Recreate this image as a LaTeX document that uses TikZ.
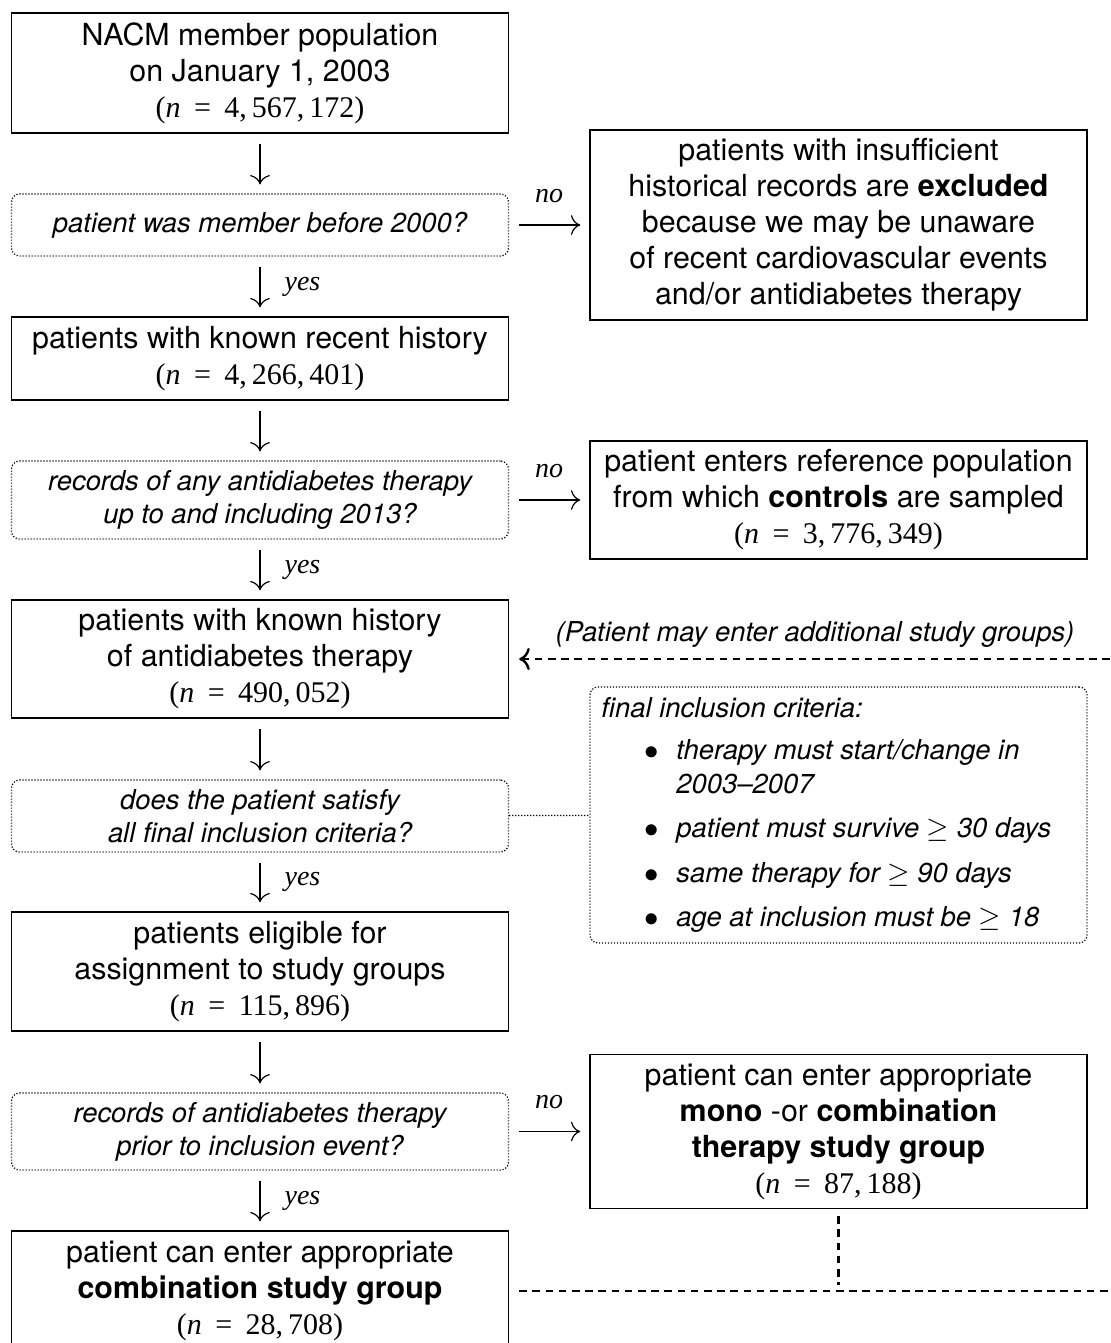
\documentclass[tikz,border=0pt]{standalone}
\usepackage{fontspec}
\setmainfont{TeX Gyre Heros}
\newfontfamily\tms{Liberation Serif}
\usetikzlibrary{positioning,arrows.meta}

\newcommand{\nval}[1]{{\tms\fontsize{15}{18}\selectfont(\textit{n}\hspace{0.45em}=\hspace{0.45em}#1)}}
\newcommand{\geqs}{$\geq$}

\begin{document}
\begin{tikzpicture}[x=0.5pt, y=-0.5pt,
        box/.style={draw, line width=0.7pt, minimum width=248.5pt, inner sep=0pt, align=center, font=\fontsize{15.2}{18}\selectfont},
        decision/.style={draw, line width=0.6pt, dash pattern=on 0.6pt off 0.9pt, rounded corners=4pt, minimum width=248.5pt, inner sep=0pt, align=center, font=\fontsize{13.7}{16.5}\selectfont\itshape},
        flow/.style={-{To[scale=1.6]}, line width=0.6pt, shorten <=5pt, shorten >=4.5pt},
        back/.style={line width=1.2pt, dash pattern=on 3.8pt off 2.8pt},
        link/.style={line width=0.6pt, dash pattern=on 0.6pt off 0.9pt},
        answer/.style={font=\tms\fontsize{14}{16}\selectfont\itshape, inner sep=0pt},
        crit/.style={anchor=west, inner sep=0pt, font=\fontsize{13.7}{16}\selectfont\itshape},
        dot/.style={inner sep=0pt, font=\fontsize{15}{16}\selectfont}
    ]
    \path[use as bounding box, clip] (0,0) rectangle (1111,1343);

    % Main column
    \node[box, minimum height=60pt] (pop) at (260,73) {NACM member population\\on January 1, 2003\\\nval{4,\,567,\,172}};
    \node[decision, minimum height=31pt] (q1) at (260,225) {patient was member before 2000?};
    \node[box, minimum height=41.5pt] (recent) at (260,358.5) {patients with known recent history\\\nval{4,\,266,\,401}};
    \node[decision, minimum height=39pt] (q2) at (260,500) {records of any antidiabetes therapy\\up to and including 2013?};
    \node[box, minimum height=59pt] (anti) at (260,659) {patients with known history\\of antidiabetes therapy\\\nval{490,\,052}};
    \node[decision, minimum height=36pt] (q3) at (260,816) {does the patient satisfy\\all final inclusion criteria?};
    \node[box, minimum height=59.5pt] (elig) at (260,971.5) {patients eligible for\\assignment to study groups\\\nval{115,\,896}};
    \node[decision, minimum height=38.5pt] (q4) at (260,1131.5) {records of antidiabetes therapy\\prior to inclusion event?};
    \node[box, minimum height=60pt] (combo) at (260,1291) {patient can enter appropriate\\\textbf{combination study group}\\\nval{28,\,708}};

    % Side column
    \node[box, minimum height=95pt] (excl) at (838.5,225) {patients with insufficient\\historical records are \textbf{excluded}\\because we may be unaware\\of recent cardiovascular events\\and/or antidiabetes therapy};
    \node[box, minimum height=59pt] (ref) at (838.5,500) {patient enters reference population\\from which \textbf{controls} are sampled\\\nval{3,\,776,\,349}};
    \node[box, minimum height=77pt] (mono) at (838.5,1131.5) {patient can enter appropriate\\\textbf{mono} -or \textbf{combination}\\\textbf{therapy study group}\\\nval{87,\,188}};

    % Inclusion criteria
    \node[decision, minimum height=128pt] (rules) at (838.5,815) {};
    \node[crit] (rtitle) at (601,708) {final inclusion criteria:};
    \node[dot] (b1) at (652,753) {$\bullet$};
    \node[crit] (r1) at (676,752) {therapy must start/change in};
    \node[crit] (r1b) at (676,784) {2003--2007};
    \node[dot] (b2) at (652,831) {$\bullet$};
    \node[crit] (r2) at (676,830) {patient must survive \geqs\ 30 days};
    \node[dot] (b3) at (652,876) {$\bullet$};
    \node[crit] (r3) at (676,875) {same therapy for \geqs\ 90 days};
    \node[dot] (b4) at (652,920) {$\bullet$};
    \node[crit] (r4) at (676,919) {age at inclusion must be \geqs\ 18};

    % Flow down
    \draw[flow] (pop) -- (q1);
    \draw[flow] (q1) -- node[answer, right=12pt] {yes} (recent);
    \draw[flow] (recent) -- (q2);
    \draw[flow] (q2) -- node[answer, right=12pt] {yes} (anti);
    \draw[flow] (anti) -- (q3);
    \draw[flow] (q3) -- node[answer, right=12pt] {yes} (elig);
    \draw[flow] (elig) -- (q4);
    \draw[flow] (q4) -- node[answer, right=12pt] {yes} (combo);

    % Flow right
    \draw[flow] (q1) -- node[answer, above=11pt] {no} (excl);
    \draw[flow] (q2) -- node[answer, above=11pt] {no} (ref);
    \draw[flow] (q4) -- node[answer, above=11pt] {no} (mono);
    \draw[link] (q3) -- (rules);

    % Return paths
    \coordinate (edgeA) at (1125,659);
    \coordinate (edgeB) at (1125,1291);
    \coordinate (join) at (838.5,1291);
    \draw[back, {To[scale=1.25]}-, shorten <=5pt] (anti.east) -- (edgeA);
    \node[inner sep=0pt, font=\fontsize{13.7}{16}\selectfont\itshape] (again) at (815,634) {(Patient may enter additional study groups)};
    \draw[back, shorten <=3.5pt, shorten >=3pt] (mono.south) -- (join);
    \draw[back, shorten <=5pt] (combo.east) -- (edgeB);
\end{tikzpicture}
\end{document}
